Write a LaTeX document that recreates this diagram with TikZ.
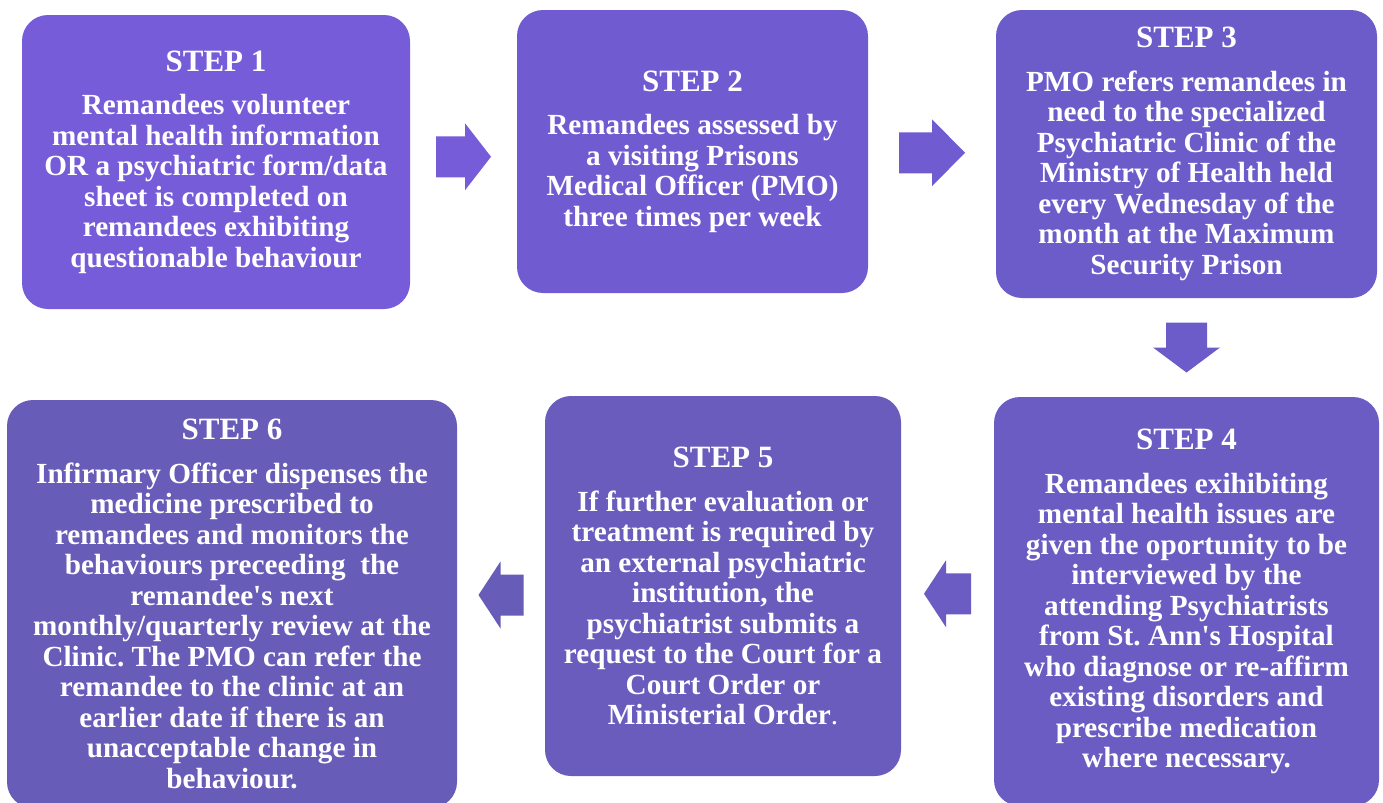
\documentclass[tikz,border=0pt]{standalone}
\usepackage{fontspec}
\setmainfont{Liberation Serif}
\usetikzlibrary{calc}
\frenchspacing

\definecolor{stepA}{HTML}{765CD8}
\definecolor{stepB}{HTML}{705CD0}
\definecolor{stepC}{HTML}{6C5CCA}
\definecolor{stepD}{HTML}{6A5CC2}
\definecolor{stepE}{HTML}{6A5CBD}
\definecolor{stepF}{HTML}{675CB7}

\tikzset{
  stepbox/.style={rounded corners=13pt, inner sep=0pt, text=white, align=center,
    font=\fontsize{14.6}{15.25}\selectfont\bfseries},
  pics/blockarrow/.style 2 args={code={
    \fill (-#1,-20.5) -- (#1-#2,-20.5) -- (#1-#2,-33.5) -- (#1,0)
      -- (#1-#2,33.5) -- (#1-#2,20.5) -- (-#1,20.5) -- cycle;}}
}
\newcommand{\stephead}[1]{{\fontsize{15.5}{15.25}\selectfont STEP #1}\\[6.5pt]}

\begin{document}
\begin{tikzpicture}[x=0.5pt, y=-0.5pt]
\useasboundingbox[fill=white] (0,0) rectangle (1383,803);

\node[stepbox, fill=stepA, minimum width=194pt, minimum height=147pt] (s1) at (216,162)
  {\stephead{1}Remandees volunteer\\mental health information\\OR a psychiatric form/data\\sheet is completed on\\remandees exhibiting\\questionable behaviour};
\node[stepbox, fill=stepB, minimum width=175.5pt, minimum height=141.5pt] (s2) at (692.5,151.5)
  {\stephead{2}Remandees assessed by\\a visiting Prisons\\Medical Officer (PMO)\\three times per week};
\node[stepbox, fill=stepC, minimum width=190.5pt, minimum height=144pt] (s3) at (1186.5,154)
  {\stephead{3}PMO refers remandees in\\need to the specialized\\Psychiatric Clinic of the\\Ministry of Health held\\every Wednesday of the\\month at the Maximum\\Security Prison};
\node[stepbox, fill=stepD, minimum width=192.5pt, minimum height=204.5pt] (s4) at (1186.5,601.5)
  {\stephead{4}Remandees exihibiting\\mental health issues are\\given the oportunity to be\\interviewed by the\\attending Psychiatrists\\from St. Ann\textquotesingle s Hospital\\who diagnose or re-affirm\\existing disorders and\\prescribe medication\\where necessary.};
\node[stepbox, fill=stepE, minimum width=178pt, minimum height=190pt] (s5) at (723,586)
  {\stephead{5}If further evaluation or\\treatment is required by\\an external psychiatric\\institution, the\\psychiatrist submits a\\request to the Court for a\\Court Order or\\Ministerial Order{\mdseries .}};
\node[stepbox, fill=stepF, minimum width=225pt, minimum height=204pt] (s6) at (232,604)
  {\stephead{6}Infirmary Officer dispenses the\\medicine prescribed to\\remandees and monitors the\\behaviours preceeding\ \ the\\remandee\textquotesingle s next\\monthly/quarterly review at the\\Clinic. The PMO can refer the\\remandee to the clinic at an\\earlier date if there is an\\unacceptable change in\\behaviour.};

\pic[fill=stepA] (a12) at ($(s1.east)!.5!(s2.west)$) {blockarrow={27.5}{26}};
\pic[fill=stepB] (a23) at ($(s2.east)!.5!(s3.west)$) {blockarrow={33}{33}};
\pic[fill=stepC, rotate=-90] (a34) at ($(s3.south)!.5!(s4.north)$) {blockarrow={25}{25}};
\pic[fill=stepD, rotate=180] (a45) at ($(s4.west)!.5!(s5.east)$) {blockarrow={23.5}{22}};
\pic[fill=stepF, rotate=180] (a56) at ($(s5.west)!.5!(s6.east)$) {blockarrow={22.5}{22}};
\end{tikzpicture}
\end{document}
